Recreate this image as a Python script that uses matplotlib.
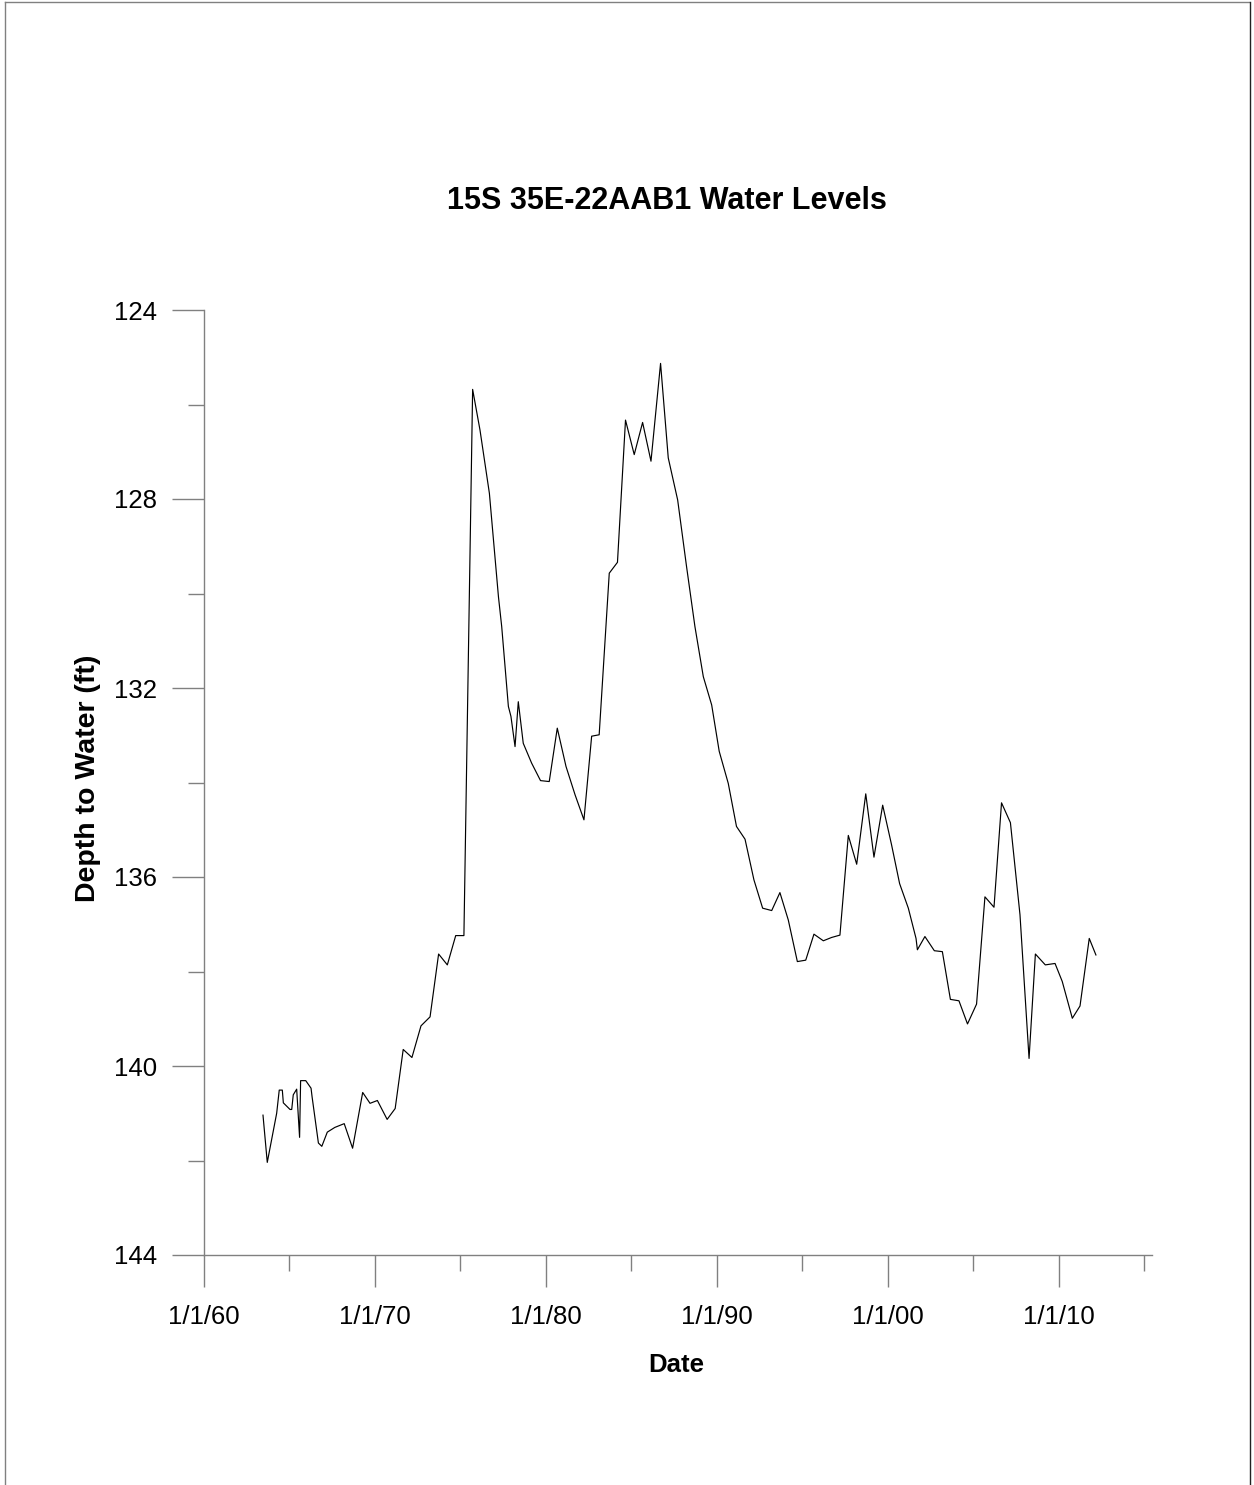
import matplotlib
matplotlib.use("Agg")
import matplotlib.pyplot as plt
from matplotlib.lines import Line2D
from matplotlib.ticker import MultipleLocator, FixedLocator

plt.rcParams['font.family'] = ['Liberation Sans', 'DejaVu Sans']

# Decimal year of each measurement
years = [1963.45, 1963.70, 1964.25, 1964.40, 1964.58, 1964.64, 1965.03, 1965.13,
         1965.22, 1965.42, 1965.59, 1965.65, 1965.95, 1966.26, 1966.32, 1966.69,
         1966.89, 1967.21, 1967.65, 1968.20, 1968.69, 1969.28, 1969.71, 1970.14,
         1970.71, 1971.18, 1971.65, 1972.16, 1972.69, 1973.22, 1973.72, 1974.23,
         1974.72, 1975.20, 1975.71, 1976.14, 1976.69, 1977.22, 1977.41, 1977.80,
         1977.95, 1978.19, 1978.38, 1978.67, 1979.16, 1979.68, 1980.19, 1980.66,
         1981.17, 1981.70, 1982.22, 1982.67, 1983.11, 1983.70, 1984.18, 1984.65,
         1985.16, 1985.65, 1986.14, 1986.70, 1987.15, 1987.70, 1988.22, 1988.71,
         1989.20, 1989.69, 1990.13, 1990.66, 1991.14, 1991.64, 1992.16, 1992.67,
         1993.20, 1993.68, 1994.17, 1994.70, 1995.19, 1995.67, 1996.22, 1996.70,
         1997.19, 1997.68, 1998.17, 1998.70, 1999.18, 1999.69, 2000.21, 2000.68,
         2001.19, 2001.64, 2001.72, 2002.16, 2002.71, 2003.18, 2003.65, 2004.15,
         2004.65, 2005.18, 2005.67, 2006.20, 2006.64, 2007.16, 2007.72, 2008.25,
         2008.62, 2009.20, 2009.77, 2010.19, 2010.78, 2011.23, 2011.77, 2012.16]

# Depth to water (ft)
depths = [141.04, 142.04, 141.00, 140.51, 140.51, 140.78, 140.92, 140.92,
          140.61, 140.49, 141.51, 140.31, 140.31, 140.47, 140.65, 141.63,
          141.70, 141.40, 141.30, 141.22, 141.74, 140.56, 140.79, 140.73,
          141.13, 140.90, 139.65, 139.82, 139.15, 138.96, 137.63, 137.86,
          137.24, 137.24, 125.68, 126.54, 127.88, 130.07, 130.70, 132.39,
          132.60, 133.24, 132.29, 133.17, 133.59, 133.96, 133.98, 132.85,
          133.66, 134.26, 134.79, 133.02, 132.99, 129.57, 129.34, 126.33,
          127.06, 126.38, 127.20, 125.13, 127.13, 128.02, 129.43, 130.70,
          131.76, 132.36, 133.34, 134.02, 134.93, 135.20, 136.06, 136.66,
          136.71, 136.33, 136.91, 137.79, 137.76, 137.21, 137.35, 137.28,
          137.23, 135.12, 135.73, 134.24, 135.58, 134.48, 135.32, 136.14,
          136.66, 137.30, 137.54, 137.26, 137.56, 137.58, 138.59, 138.62,
          139.11, 138.69, 136.42, 136.64, 134.43, 134.85, 136.80, 139.84,
          137.63, 137.86, 137.83, 138.21, 138.99, 138.73, 137.30, 137.65]

x_major = [1960, 1970, 1980, 1990, 2000, 2010]
x_labels = ["1/1/60", "1/1/70", "1/1/80", "1/1/90", "1/1/00", "1/1/10"]
y_major = [124, 128, 132, 136, 140, 144]

W, H = 1254, 1485
fig = plt.figure(figsize=(W / 100, H / 100), dpi=100)
ax = fig.add_axes([204 / W, 1 - 1255 / H, (1152 - 204) / W, (1255 - 310) / H])

ax.plot(years, depths, color='black', linewidth=0.85)

ax.set_xlim(1960, 2015.44)
ax.set_ylim(144, 124)

ax.xaxis.set_major_locator(FixedLocator(x_major))
ax.set_xticklabels(x_labels)
ax.xaxis.set_minor_locator(MultipleLocator(5))
ax.yaxis.set_major_locator(FixedLocator(y_major))
ax.yaxis.set_minor_locator(MultipleLocator(2))

gray = '#808080'
for s in ['top', 'right']:
    ax.spines[s].set_visible(False)
for s in ['left', 'bottom']:
    ax.spines[s].set_color(gray)
    ax.spines[s].set_linewidth(1.0)

ax.tick_params(axis='both', which='major', direction='out', length=23,
               width=1.0, color=gray, labelsize=18.5)
ax.tick_params(axis='both', which='minor', direction='out', length=11.5,
               width=1.0, color=gray)
ax.tick_params(axis='x', which='major', pad=13)
ax.tick_params(axis='y', which='major', pad=11)

fig.text(676 / W, 1 - 1365 / H, "Date", fontsize=18.5, fontweight='bold',
         ha='center', va='center')
fig.text(88 / W, 1 - 778 / H, "Depth to Water (ft)", fontsize=20.5,
         fontweight='bold', ha='center', va='center', rotation=90)

fig.text(667 / W, 1 - 201 / H, "15S 35E-22AAB1 Water Levels", fontsize=22,
         fontweight='bold', ha='center', va='center')

# figure frame lines
fig.add_artist(Line2D([5 / W, 1249 / W], [1 - 2 / H, 1 - 2 / H], color=gray,
                      linewidth=1.0, transform=fig.transFigure))
fig.add_artist(Line2D([5 / W, 5 / W], [0, 1 - 2 / H], color=gray,
                      linewidth=1.0, transform=fig.transFigure))
fig.add_artist(Line2D([1249.5 / W, 1249.5 / W], [0, 1 - 2 / H], color='#222222',
                      linewidth=1.0, transform=fig.transFigure))

fig.savefig("out.png", dpi=100)
